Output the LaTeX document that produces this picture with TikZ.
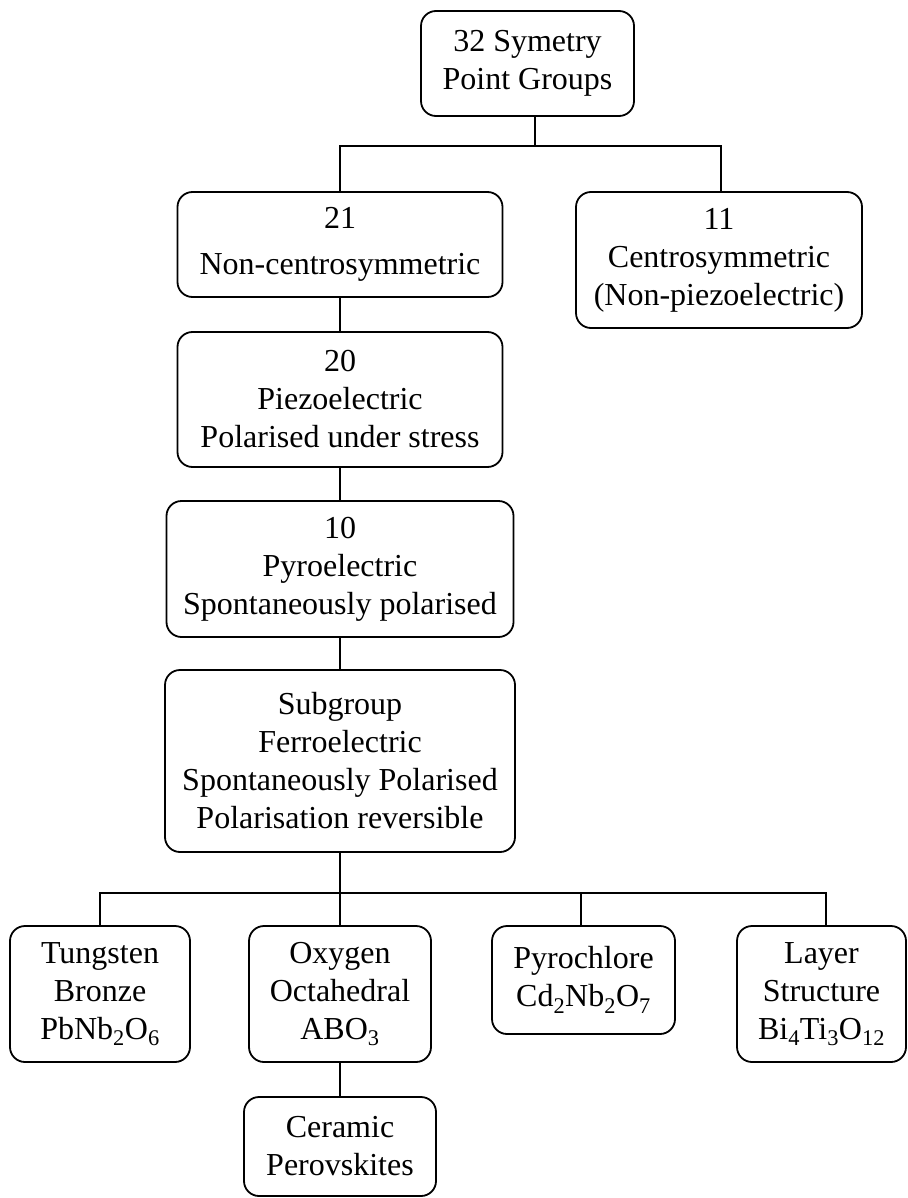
\documentclass[tikz,border=0pt]{standalone}
\usepackage{fontspec}
\setmainfont{Liberation Serif}
\begin{document}
\begin{tikzpicture}[x=1pt,y=-1pt,
  box/.style={draw, line width=1.8pt, rounded corners=15pt, inner sep=0pt,
    align=center, font=\fontsize{32}{38}\selectfont},
  conn/.style={line width=1.8pt}]
\useasboundingbox (0,0) rectangle (907,1198);
\node[box, minimum width=213pt, minimum height=105pt] (top) at (527.5,63.5) {32 Symetry\\Point Groups};
\node[box, minimum width=325pt, minimum height=105pt] (n21) at (340,244.5) {21\\[8pt]Non-centrosymmetric};
\node[box, minimum width=286pt, minimum height=136pt] (c11) at (719,260) {11\\Centrosymmetric\\(Non-piezoelectric)};
\node[box, minimum width=325pt, minimum height=135pt] (p20) at (340,399.5) {20\\Piezoelectric\\Polarised under stress};
\node[box, minimum width=347pt, minimum height=136pt] (p10) at (340,569) {10\\Pyroelectric\\Spontaneously polarised};
\node[box, minimum width=350pt, minimum height=182pt] (sub) at (340,761) {Subgroup\\Ferroelectric\\Spontaneously Polarised\\Polarisation reversible};
\node[box, minimum width=180pt, minimum height=136pt] (tung) at (100,994) {Tungsten\\Bronze\\PbNb\textsubscript{2}O\textsubscript{6}};
\node[box, minimum width=182pt, minimum height=136pt] (oxy) at (340,994) {Oxygen\\Octahedral\\ABO\textsubscript{3}};
\node[box, minimum width=183pt, minimum height=108pt] (pyro) at (583.5,980) {Pyrochlore\\Cd\textsubscript{2}Nb\textsubscript{2}O\textsubscript{7}};
\node[box, minimum width=169pt, minimum height=136pt] (layer) at (821.5,994) {Layer\\Structure\\Bi\textsubscript{4}Ti\textsubscript{3}O\textsubscript{12}};
\node[box, minimum width=192pt, minimum height=99pt] (cer) at (340,1146.5) {Ceramic\\Perovskites};
\coordinate (b1) at (535,146);
\coordinate (b2) at (340,893);
\draw[conn] ([xshift=7.5pt]top.south) -- (b1);
\draw[conn] (n21.north) |- (b1) -| ([xshift=2pt]c11.north);
\draw[conn] (n21.south) -- (p20.north);
\draw[conn] (p20.south) -- (p10.north);
\draw[conn] (p10.south) -- (sub.north);
\draw[conn] (sub.south) -- (oxy.north);
\draw[conn] (tung.north) |- (b2) -| ([xshift=4.5pt]layer.north);
\draw[conn] ([xshift=-2.5pt]pyro.north) -- ([xshift=-2.5pt]pyro.north |- b2);
\draw[conn] (oxy.south) -- (cer.north);
\end{tikzpicture}
\end{document}
